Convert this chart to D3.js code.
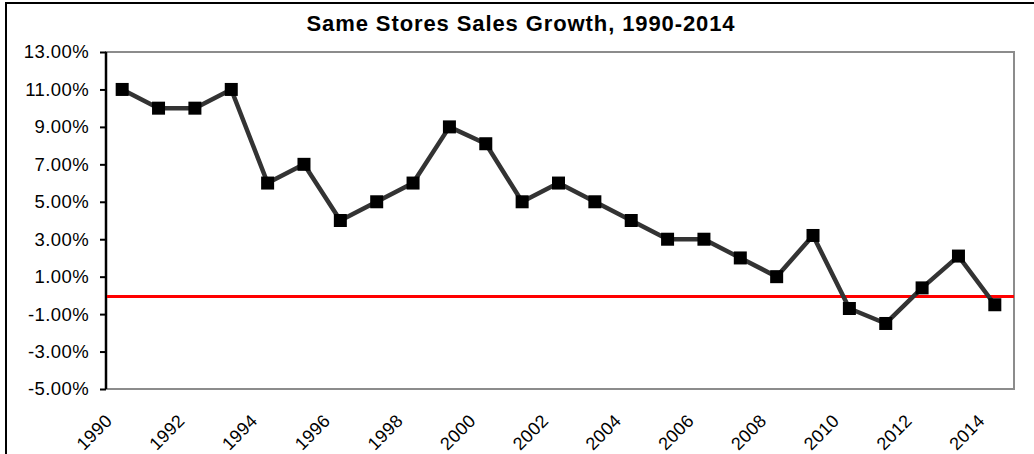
<!DOCTYPE html>
<html>
<head>
<meta charset="utf-8">
<script src="https://cdn.jsdelivr.net/npm/d3@7"></script>
<style>
  body { margin: 0; background: #fff; }
  svg { display: block; font-family: "Liberation Sans", Arial, sans-serif; }
</style>
</head>
<body>
<div id="chart"></div>
<script>
// data
const years = [1990, 1991, 1992, 1993, 1994, 1995, 1996, 1997, 1998, 1999,
               2000, 2001, 2002, 2003, 2004, 2005, 2006, 2007, 2008, 2009,
               2010, 2011, 2012, 2013, 2014];
const growth = [11.0, 10.0, 10.0, 11.0, 6.0, 7.0, 4.0, 5.0, 6.0, 9.0,
                8.1, 5.0, 6.0, 5.0, 4.0, 3.0, 3.0, 2.0, 1.0, 3.2,
                -0.7, -1.5, 0.4, 2.1, -0.5];
const yTicks = [13, 11, 9, 7, 5, 3, 1, -1, -3, -5];
const xLabels = [1990, 1992, 1994, 1996, 1998, 2000, 2002, 2004, 2006, 2008, 2010, 2012, 2014];
const baseline = [0];

const width = 1034, height = 454;
const plot = { left: 106, right: 1014, top: 52, bottom: 389 };

const svg = d3.select('#chart')
    .append('svg')
    .attr('width', width)
    .attr('height', height);

// outer frame (cut off at right and bottom like the picture)
svg.append('rect')
    .attr('x', 6).attr('y', 3)
    .attr('width', 1040).attr('height', 470)
    .style('fill', '#fff')
    .style('stroke', '#000')
    .style('stroke-width', 2);

// title
svg.append('text')
    .attr('x', 521)
    .attr('y', 31)
    .attr('text-anchor', 'middle')
    .style('font-size', '22px')
    .style('font-weight', 'bold')
    .style('letter-spacing', '0.9px')
    .text('Same Stores Sales Growth, 1990-2014');

const x = d3.scaleBand()
    .domain(years)
    .range([104, 1013]);

const y = d3.scaleLinear()
    .domain([-5, 13])
    .range([plot.bottom, plot.top]);

// plot area border (grey)
svg.append('rect')
    .attr('x', plot.left).attr('y', plot.top)
    .attr('width', plot.right - plot.left)
    .attr('height', plot.bottom - plot.top)
    .style('fill', '#fff')
    .style('stroke', '#8c8c8c')
    .style('stroke-width', 2);

// y axis
const yAxis = svg.append('g')
    .attr('transform', `translate(${plot.left},0)`)
    .call(d3.axisLeft(y)
        .tickValues(yTicks)
        .tickSize(6)
        .tickPadding(11)
        .tickFormat(d => d.toFixed(2) + '%'));
yAxis.select('.domain').style('stroke', '#000').style('stroke-width', 2.5)
    .attr('d', `M0,${plot.top}V${plot.bottom}`);
yAxis.selectAll('.tick line').style('stroke', '#000').style('stroke-width', 2);
yAxis.selectAll('.tick text')
    .style('font-size', '18.5px')
    .style('letter-spacing', '0.4px')
    .style('font-family', '"Liberation Sans", Arial, sans-serif')
    .style('fill', '#000');

// x labels, rotated
svg.append('g')
    .selectAll('text')
    .data(xLabels)
    .join('text')
    .attr('transform', d => `translate(${x(d) + x.bandwidth() / 2 - 9},422) rotate(-45)`)
    .attr('text-anchor', 'end')
    .style('font-size', '18px')
    .style('letter-spacing', '0.3px')
    .text(d => d);

// zero line
svg.append('g')
    .selectAll('line')
    .data(baseline)
    .join('line')
    .attr('x1', plot.left + 1)
    .attr('x2', plot.right)
    .attr('y1', d => y(d) + 1)
    .attr('y2', d => y(d) + 1)
    .style('stroke', '#ff0000')
    .style('stroke-width', 3);

// series line
const pts = years.map((yr, i) => ({ yr: yr, v: growth[i] }));
const line = d3.line()
    .x(d => x(d.yr) + x.bandwidth() / 2)
    .y(d => y(d.v));

svg.append('path')
    .datum(pts)
    .attr('d', line)
    .style('fill', 'none')
    .style('stroke', '#333')
    .style('stroke-width', 4.5)
    .style('stroke-linejoin', 'round');

// markers
const ms = 13;
svg.append('g')
    .selectAll('rect')
    .data(pts)
    .join('rect')
    .attr('x', d => x(d.yr) + x.bandwidth() / 2 - ms / 2)
    .attr('y', d => y(d.v) - ms / 2)
    .attr('width', ms)
    .attr('height', ms)
    .style('fill', '#000');
</script>
</body>
</html>
